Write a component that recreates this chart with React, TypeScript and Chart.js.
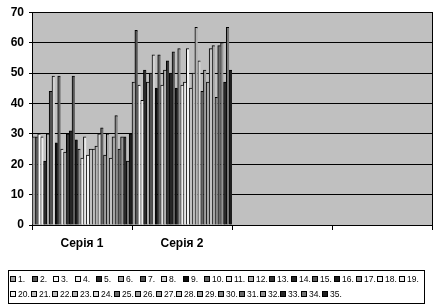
import React, { useEffect, useRef } from 'react';
import { Chart, registerables } from 'chart.js';

Chart.register(...registerables);

const categories = ['Серія 1', 'Серія 2', '', ''];

const seriesLabels = [
  '1.', '2.', '3.', '4.', '5.', '6.', '7.', '8.', '9.', '10.',
  '11.', '12.', '13.', '14.', '15.', '16.', '17.', '18.', '19.', '20.',
  '21.', '22.', '23.', '24.', '25.', '26.', '27.', '28.', '29.', '30.',
  '31.', '32.', '33.', '34.', '35.',
];

const seria1Values = [
  29, 29, 30, 29, 21, 30, 44, 49, 27, 49,
  25, 24, 30, 31, 49, 28, 25, 22, 29, 23,
  25, 25, 26, 30, 32, 23, 30, 22, 29, 36,
  25, 29, 29, 21, 30,
];

const seria2Values = [
  47, 64, 46, 41, 51, 47, 50, 56, 45, 56,
  46, 51, 54, 50, 57, 45, 58, 46, 47, 58,
  45, 50, 65, 54, 44, 51, 47, 58, 59, 42,
  59, 60, 47, 65, 51,
];

const seriesColors = [
  '#a4a4a4', '#575757', '#fafafa', '#efefef', '#2a2a2a', '#a6a6a6', '#525252', '#d1d1d1', '#0e0e0e', '#686868',
  '#e2e2e2', '#b2b2b2', '#343434', '#262626', '#595959', '#1c1c1c', '#949494', '#efefef', '#e9e9e9', '#f3f3f3',
  '#c2c2c2', '#bdbdbd', '#b3b3b3', '#d5d5d5', '#676767', '#9e9e9e', '#a6a6a6', '#c5c5c5', '#a6a6a6', '#888888',
  '#6b6b6b', '#969696', '#292929', '#757575', '#1e1e1e',
];

const legendRowSize = 19;
const legendSteps = [21.6, 20.8];

const plotBackground = {
  id: 'plotBackground',
  beforeDraw(chart: any) {
    const { ctx, chartArea } = chart;
    ctx.save();
    ctx.fillStyle = '#c0c0c0';
    ctx.fillRect(chartArea.left, chartArea.top, chartArea.right - chartArea.left, chartArea.bottom - chartArea.top);
    ctx.restore();
  },
  afterDraw(chart: any) {
    const { ctx, chartArea } = chart;
    ctx.save();
    ctx.strokeStyle = '#000';
    ctx.lineWidth = 1;
    ctx.beginPath();
    const rx = Math.round(chartArea.right) + 0.5;
    ctx.moveTo(rx, Math.round(chartArea.top));
    ctx.lineTo(rx, Math.round(chartArea.bottom) + 1);
    ctx.stroke();
    ctx.restore();
  },
};

const boxLegend = {
  id: 'boxLegend',
  afterDraw(chart: any) {
    const { ctx } = chart;
    const datasets = chart.data.datasets;
    const left = 8;
    const top = 270;
    const right = 424;
    const bottom = 303;
    const rowY = [279, 294];
    ctx.save();
    ctx.strokeStyle = '#000';
    ctx.lineWidth = 1;
    ctx.strokeRect(left + 0.5, top + 0.5, right - left, bottom - top);
    ctx.font = '8.5px "Liberation Sans", Arial, sans-serif';
    ctx.textBaseline = 'middle';
    ctx.fillStyle = '#000';
    datasets.forEach((ds: any, i: number) => {
      const row = i < legendRowSize ? 0 : 1;
      const col = row === 0 ? i : i - legendRowSize;
      const x = Math.round(left + 2 + col * legendSteps[row]);
      const y = rowY[row];
      ctx.fillStyle = ds.backgroundColor;
      ctx.fillRect(x, y - 3, 6, 6);
      ctx.strokeStyle = '#000';
      ctx.strokeRect(x + 0.5, y - 2.5, 5, 5);
      ctx.fillStyle = '#000';
      ctx.fillText(ds.label, x + 8, y + 0.5);
    });
    ctx.restore();
  },
};

export default function App() {
  const canvasRef = useRef<HTMLCanvasElement | null>(null);

  useEffect(() => {
    document.body.style.margin = '0';
    const canvas = canvasRef.current;
    if (!canvas) return;
    const datasets = seriesLabels.map((label, i) => ({
      label,
      data: [seria1Values[i], seria2Values[i], null, null],
      backgroundColor: seriesColors[i],
      borderColor: '#000',
      borderWidth: { top: 1, left: 1, right: 0, bottom: 0 },
      borderSkipped: false as any,
      categoryPercentage: 1,
      barPercentage: 1,
    }));
    const chart = new Chart(canvas, {
      type: 'bar',
      data: { labels: categories, datasets },
      plugins: [plotBackground, boxLegend],
      options: {
        animation: false,
        responsive: true,
        maintainAspectRatio: false,
        layout: { padding: { top: 8, right: 4, left: 0, bottom: 44 } },
        plugins: {
          legend: { display: false },
          tooltip: { enabled: false },
        },
        scales: {
          x: {
            grid: { offset: true, drawOnChartArea: false, color: '#000', tickLength: 5 },
            border: { color: '#000' },
            ticks: {
              color: '#000',
              padding: 6,
              maxRotation: 0,
              autoSkip: false,
              font: { family: '"Liberation Sans", Arial, sans-serif', size: 12, weight: 'bold' },
            },
            afterFit: (s: any) => { s.height = 37; },
          },
          y: {
            min: 0,
            max: 70,
            grid: { color: '#000', tickLength: 3 },
            border: { color: '#000' },
            ticks: {
              stepSize: 10,
              color: '#000',
              padding: 5,
              font: { family: '"Liberation Sans", Arial, sans-serif', size: 12, weight: 'bold' },
            },
            afterFit: (s: any) => { s.width = 32; },
          },
        },
      },
    });
    return () => chart.destroy();
  }, []);

  return (
    <div style={{ width: 436, height: 306, position: 'relative' }}>
      <canvas ref={canvasRef} />
    </div>
  );
}
